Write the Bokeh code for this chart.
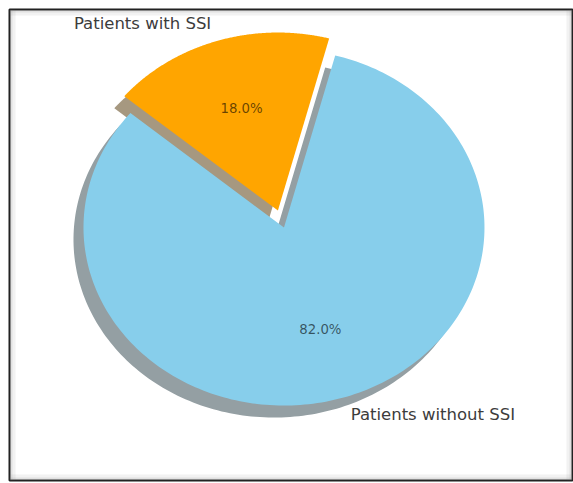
import numpy as np
from bokeh.plotting import figure
from bokeh.models import ColumnDataSource, BoxAnnotation
from bokeh.core.properties import value
from bokeh.embed import file_html
from bokeh.resources import INLINE

# --- data -------------------------------------------------------------
labels = ["Patients without SSI", "Patients with SSI"]
sizes = [82.0, 18.0]
explode = [0.0, 0.1]
colors = ["#87CEEB", "#FFA500"]
shadow_colors = ["#949fa3", "#a69880"]
start_angle = 140.0

# --- canvas -------------------------------------------------------------
W, H = 573, 483
PX_X, PX_Y = 200.5, 178.0          # pixels per unit radius (x, y)
p = figure(width=W, height=H, output_backend="svg", toolbar_location=None,
           x_range=(-1.369, 1.439), y_range=(-1.421, 1.2247),
           x_axis_location=None, y_axis_location=None,
           min_border_left=9, min_border_right=1,
           min_border_top=9, min_border_bottom=3)
p.xgrid.visible = False
p.ygrid.visible = False
p.background_fill_color = "white"
p.border_fill_color = "white"
p.outline_line_color = "#1e1e1e"
p.outline_line_width = 2

# soft inner shadow along the frame
for w, a in [(6, 0.10), (3, 0.14)]:
    dx, dy = w / PX_X, w / PX_Y
    p.add_layout(BoxAnnotation(bottom=1.2247 - dy, fill_color="gray", fill_alpha=a, line_color=None))
    p.add_layout(BoxAnnotation(top=-1.421 + dy, fill_color="gray", fill_alpha=a, line_color=None))
    p.add_layout(BoxAnnotation(right=-1.369 + dx, fill_color="gray", fill_alpha=a, line_color=None))
    p.add_layout(BoxAnnotation(left=1.439 - dx, fill_color="gray", fill_alpha=a, line_color=None))

# --- wedges -------------------------------------------------------------
fracs = np.array(sizes) / np.sum(sizes)
shadow_dx, shadow_dy = -10 / PX_X, -12 / PX_Y

wx, wy, sx, sy = [], [], [], []
lx, ly, lalign, px_, py_ = [], [], [], [], []
a = np.deg2rad(start_angle)
for frac, ex in zip(fracs, explode):
    b = a + 2 * np.pi * frac
    mid = 0.5 * (a + b)
    ox, oy = ex * np.cos(mid), ex * np.sin(mid)
    t = np.linspace(a, b, 240)
    xx = np.concatenate([[0.0], np.cos(t), [0.0]]) + ox
    yy = np.concatenate([[0.0], np.sin(t), [0.0]]) + oy
    wx.append(list(xx)); wy.append(list(yy))
    sx.append(list(xx + shadow_dx)); sy.append(list(yy + shadow_dy))
    lx.append(ox + 1.1 * np.cos(mid)); ly.append(oy + 1.1 * np.sin(mid))
    lalign.append("left" if np.cos(mid) > 0 else "right")
    px_.append(ox + 0.6 * np.cos(mid)); py_.append(oy + 0.6 * np.sin(mid))
    a = b

shadow_src = ColumnDataSource(dict(xs=sx, ys=sy, color=shadow_colors))
wedge_src = ColumnDataSource(dict(xs=wx, ys=wy, color=colors))
p.patches("xs", "ys", source=shadow_src, fill_color="color", line_color=None)
p.patches("xs", "ys", source=wedge_src, fill_color="color", line_color=None)

# --- texts --------------------------------------------------------------
label_src = ColumnDataSource(dict(x=lx, y=ly, text=labels, align=lalign))
p.text("x", "y", text="text", source=label_src, text_align="align",
       text_baseline="middle", text_font=value("DejaVu Sans"),
       text_font_size="16.5px", text_color="#3c3c3c")

pct_src = ColumnDataSource(dict(x=px_, y=py_, text=[f"{v:.1f}%" for v in sizes]))
p.text("x", "y", text="text", source=pct_src, text_align="center",
       text_baseline="middle", text_font=value("DejaVu Sans"),
       text_font_size="13.3px", text_color="black", text_alpha=0.6)

open("out.html", "w").write(file_html(p, INLINE))
